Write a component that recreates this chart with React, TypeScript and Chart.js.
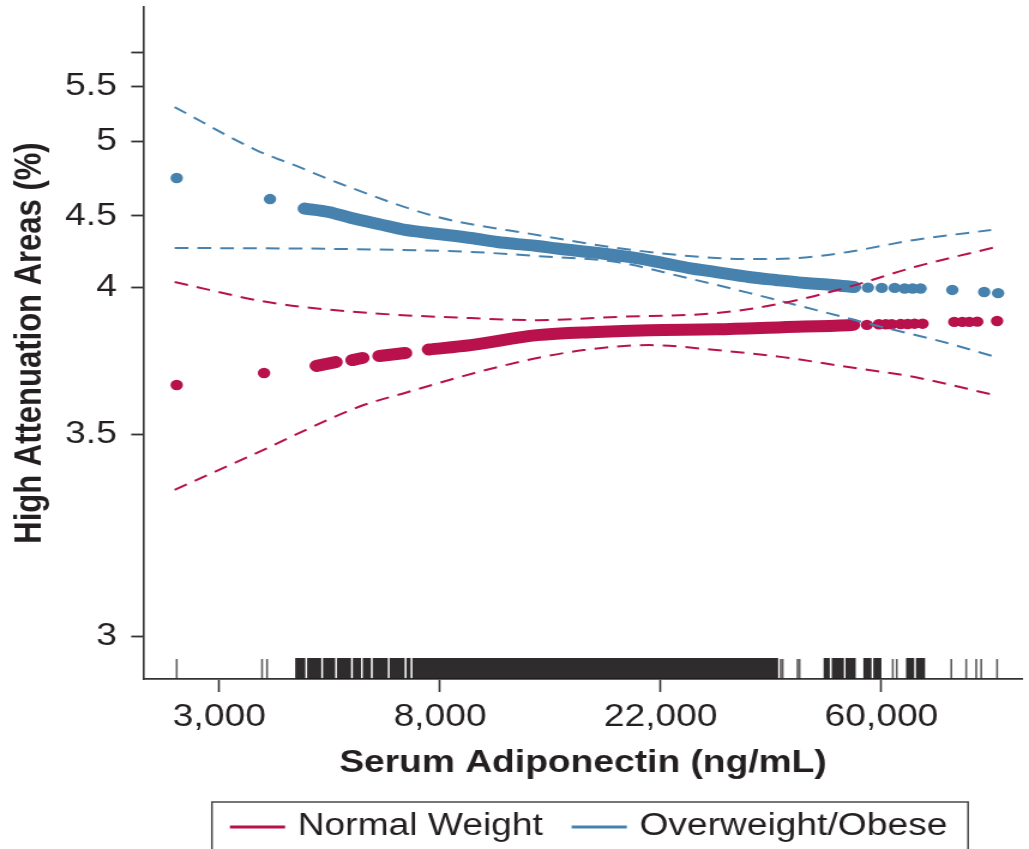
import { useEffect, useRef } from 'react';
import { Chart, registerables, LinearScale } from 'chart.js';

// ---- series (x: serum adiponectin, ng/mL; y: high attenuation areas, %) ----

// Normal weight: fitted values
const NW_DOT_X = [2457, 3650];
const NW_DOT_Y = [3.667, 3.708];
const NW_BAND_X = [4633, 5047, 5200, 5448, 5699, 5800, 6156, 6916, 7300, 7705, 9308, 12582, 16481, 20925, 28301, 38272, 51516, 52641];
const NW_BAND_Y = [3.732, 3.745, null, 3.752, 3.759, null, 3.766, 3.776, null, 3.788, 3.803, 3.837, 3.848, 3.854, 3.857, 3.864, 3.871, 3.872];
const NW_TAIL_X = [56066, 59174, 61071, 62741, 65334, 67424, 69562, 72136, 83291, 86368, 89135, 92416, 101127];
const NW_TAIL_Y = [3.872, 3.874, 3.874, 3.874, 3.875, 3.875, 3.876, 3.876, 3.882, 3.882, 3.882, 3.883, 3.885];
// Normal weight: 95% confidence limits
const NW_HI_X = [2434, 3784, 5935, 9308, 12582, 18033, 28301, 38272, 51516, 69562, 100626];
const NW_HI_Y = [4.037, 3.947, 3.912, 3.895, 3.888, 3.899, 3.912, 3.946, 4.002, 4.142, 4.283];
const NW_LO_X = [2434, 3569, 5597, 7009, 9477, 12582, 15546, 20925, 28301, 38272, 51516, 69562, 99756];
const NW_LO_Y = [3.362, 3.456, 3.592, 3.643, 3.708, 3.759, 3.786, 3.803, 3.786, 3.762, 3.728, 3.694, 3.633];

// Overweight/obese: fitted values
const OW_DOT_X = [2457, 3750];
const OW_DOT_Y = [4.756, 4.614];
const OW_BAND_X = [4389, 4891, 5424, 6126, 6916, 8022, 9308, 10509, 11499, 12582, 13767, 16481, 19731, 22286, 25048, 28301, 32832, 37081, 42416, 47937, 52881];
const OW_BAND_Y = [4.55, 4.527, 4.486, 4.444, 4.402, 4.374, 4.346, 4.318, 4.303, 4.29, 4.272, 4.241, 4.205, 4.17, 4.135, 4.107, 4.072, 4.051, 4.03, 4.016, 4.002];
const OW_TAIL_X = [56318, 59958, 63574, 66527, 68963, 71490, 82549, 95374, 101582];
const OW_TAIL_Y = [3.999, 3.998, 3.998, 3.996, 3.996, 3.996, 3.991, 3.984, 3.98];
// Overweight/obese: 95% confidence limits
const OW_HI_X = [2434, 3521, 4274, 5115, 8022, 12582, 18033, 28301, 33896, 41127, 51516, 69562, 98415];
const OW_HI_Y = [5.315, 4.944, 4.83, 4.722, 4.493, 4.367, 4.276, 4.205, 4.198, 4.205, 4.248, 4.332, 4.402];
const OW_LO_X = [2434, 5115, 9308, 12582, 18033, 24392, 32832, 44398, 59958, 80716, 102037];
const OW_LO_Y = [4.276, 4.269, 4.248, 4.219, 4.177, 4.072, 3.981, 3.923, 3.865, 3.81, 3.759];

// Rug of observed adiponectin values: single observations and crowded runs
const RUG_TICKS = [2457, 3617, 3700, 37932, 38272, 40944, 41316, 63030, 64173, 82177, 87913, 91997, 94104, 101127];
const RUG_RUN_LO = [4215, 4449, 4781, 5092, 5473, 5725, 5988, 6464, 6979, 7170, 46201, 47937, 51012, 55318, 57862, 67120, 70214];
const RUG_RUN_HI = [4389, 4717, 5024, 5399, 5648, 5907, 6378, 6884, 7073, 37394, 47253, 50373, 53140, 57084, 59712, 69274, 72764];

// Axes
const X_TICK_VALUES = [2981, 8103, 22026, 59874];
const X_TICK_LABELS = ['3,000', '8,000', '22,000', '60,000'];
const X_MIN = 2111;
const X_MAX = 113600;
const Y_TICK_VALUES = [3, 3.5, 4, 4.5, 5, 5.5, 6];
const Y_TICK_LABELS = ['3', '3.5', '4', '4.5', '5', '5.5', ''];
const Y_MIN = 2.896;
const Y_MAX = 6.682;

const LEGEND_LABELS = ['Normal Weight', 'Overweight/Obese'];

// ---- styling ----
const RED = '#b8114b';
const BLUE = '#4682ad';
const INK = '#231f20';
const AXIS = '#333333';
const FONT = "'Liberation Sans', Arial, Helvetica, sans-serif";
const CANVAS_W = 858;
const CANVAS_H = 849;

// The y axis is unevenly spaced: each tick value sits at a fixed share of the axis height.
const WARP_VALUES = [Y_MIN, 3, 3.5, 4, 4.5, 5, 5.5, 6, Y_MAX];
const WARP_SHARE = [0, 0.06295, 0.36458, 0.58289, 0.68899, 0.79955, 0.8814, 0.93155, 1];

function toShare(v: number): number {
  const n = WARP_VALUES.length;
  let i = 0;
  if (v <= WARP_VALUES[0]) i = 0;
  else if (v >= WARP_VALUES[n - 1]) i = n - 2;
  else while (i < n - 2 && v > WARP_VALUES[i + 1]) i++;
  const t = (v - WARP_VALUES[i]) / (WARP_VALUES[i + 1] - WARP_VALUES[i]);
  return WARP_SHARE[i] + t * (WARP_SHARE[i + 1] - WARP_SHARE[i]);
}

function fromShare(s: number): number {
  const n = WARP_SHARE.length;
  let i = 0;
  if (s <= WARP_SHARE[0]) i = 0;
  else if (s >= WARP_SHARE[n - 1]) i = n - 2;
  else while (i < n - 2 && s > WARP_SHARE[i + 1]) i++;
  const t = (s - WARP_SHARE[i]) / (WARP_SHARE[i + 1] - WARP_SHARE[i]);
  return WARP_VALUES[i] + t * (WARP_VALUES[i + 1] - WARP_VALUES[i]);
}

class WarpedScale extends LinearScale {
  static id = 'warped';
  static defaults = LinearScale.defaults;
  getPixelForValue(value: any): number {
    if (value === null || value === undefined || isNaN(value)) return NaN;
    return this.getPixelForDecimal(toShare(Number(value)));
  }
  getValueForPixel(pixel: number): number {
    return fromShare(this.getDecimalForPixel(pixel));
  }
}

Chart.register(...registerables, WarpedScale as any);

const pts = (xs: number[], ys: (number | null)[]) => xs.map((x, i) => ({ x, y: ys[i] }));

const rugPlugin = {
  id: 'rug',
  afterDatasetsDraw(chart: any) {
    const { ctx, chartArea, scales } = chart;
    const xs = scales.x;
    const bottom = chartArea.bottom;
    const top = bottom - 21;
    ctx.save();
    ctx.fillStyle = 'rgba(30,28,28,0.93)';
    RUG_RUN_LO.forEach((lo, i) => {
      const a = xs.getPixelForValue(lo);
      const b = xs.getPixelForValue(RUG_RUN_HI[i]);
      ctx.fillRect(a - 0.5, top, b - a + 1, bottom - top);
    });
    ctx.strokeStyle = 'rgba(40,38,38,0.75)';
    ctx.lineWidth = 1.6;
    RUG_TICKS.forEach((v) => {
      const p = xs.getPixelForValue(v);
      ctx.beginPath();
      ctx.moveTo(p, top + 1);
      ctx.lineTo(p, bottom);
      ctx.stroke();
    });
    ctx.restore();
  },
};

const boxedLegend = {
  id: 'boxedLegend',
  afterDraw(chart: any) {
    const { ctx } = chart;
    const colors = [RED, BLUE];
    ctx.save();
    ctx.strokeStyle = '#4a4a4a';
    ctx.lineWidth = 1.5;
    ctx.strokeRect(176.7, 802, 630.5, 70);
    ctx.font = `31px ${FONT}`;
    ctx.textBaseline = 'middle';
    ctx.textAlign = 'left';
    let x = 191.7;
    LEGEND_LABELS.forEach((label, i) => {
      ctx.fillStyle = colors[i];
      ctx.fillRect(x, 825.5, 46, 3);
      ctx.fillStyle = INK;
      ctx.fillText(label, x + 56.5, 826.5);
      x += 56.5 + ctx.measureText(label).width + 24;
    });
    ctx.restore();
  },
};

export default function App() {
  const ref = useRef<HTMLCanvasElement | null>(null);

  useEffect(() => {
    if (!ref.current) return;
    const dashed = (color: string, xs: number[], ys: number[]) => ({
      data: pts(xs, ys),
      showLine: true,
      borderColor: color,
      borderWidth: 2,
      borderDash: [11.5, 7.5],
      pointRadius: 0,
      cubicInterpolationMode: 'monotone' as const,
      order: 0,
    });
    const band = (color: string, xs: number[], ys: (number | null)[]) => ({
      data: pts(xs, ys),
      showLine: true,
      spanGaps: false,
      borderColor: color,
      borderWidth: 12,
      borderCapStyle: 'round' as const,
      borderJoinStyle: 'round' as const,
      pointRadius: 0,
      cubicInterpolationMode: 'monotone' as const,
      order: 1,
    });
    const dots = (color: string, xs: number[], ys: number[]) => ({
      data: pts(xs, ys),
      showLine: false,
      pointRadius: 5.2,
      pointBackgroundColor: color,
      pointBorderWidth: 0,
      order: 1,
    });

    const tickFont = { family: FONT, size: 31 };
    const titleFont = { family: FONT, size: 31, weight: 'bold' as const };

    const chart = new Chart(ref.current, {
      type: 'scatter',
      data: {
        datasets: [
          dashed(RED, NW_HI_X, NW_HI_Y),
          dashed(RED, NW_LO_X, NW_LO_Y),
          dashed(BLUE, OW_HI_X, OW_HI_Y),
          dashed(BLUE, OW_LO_X, OW_LO_Y),
          band(RED, NW_BAND_X, NW_BAND_Y),
          band(BLUE, OW_BAND_X, OW_BAND_Y),
          dots(RED, NW_DOT_X, NW_DOT_Y),
          dots(RED, NW_TAIL_X, NW_TAIL_Y),
          dots(BLUE, OW_DOT_X, OW_DOT_Y),
          dots(BLUE, OW_TAIL_X, OW_TAIL_Y),
        ] as any,
      },
      options: {
        responsive: false,
        animation: false,
        devicePixelRatio: 1,
        layout: { padding: { top: 7, left: 0, right: 0, bottom: 0 } },
        plugins: { legend: { display: false }, tooltip: { enabled: false } },
        scales: {
          x: {
            type: 'logarithmic',
            min: X_MIN,
            max: X_MAX,
            afterBuildTicks: (s: any) => {
              s.ticks = X_TICK_VALUES.map((v) => ({ value: v }));
            },
            afterFit: (s: any) => {
              s.height = 170;
              s.paddingLeft = 0;
              s.paddingRight = 0;
            },
            ticks: {
              autoSkip: false,
              maxRotation: 0,
              padding: 7,
              color: INK,
              font: tickFont,
              callback: (_v: any, i: number) => X_TICK_LABELS[i],
            },
            grid: { drawOnChartArea: false, drawTicks: true, tickLength: 13, tickColor: AXIS, tickWidth: 1.6 },
            border: { display: true, color: AXIS, width: 1.8 },
            title: {
              display: true,
              text: 'Serum Adiponectin (ng/mL)',
              color: INK,
              font: titleFont,
              padding: { top: 0, bottom: 67 },
            },
          },
          y: {
            type: 'warped' as any,
            min: Y_MIN,
            max: Y_MAX,
            afterBuildTicks: (s: any) => {
              s.ticks = Y_TICK_VALUES.map((v) => ({ value: v }));
            },
            afterFit: (s: any) => {
              s.width = 119.4;
              s.paddingTop = 0;
              s.paddingBottom = 0;
            },
            ticks: {
              autoSkip: false,
              padding: 12,
              color: INK,
              font: tickFont,
              callback: (_v: any, i: number) => Y_TICK_LABELS[i],
            },
            grid: { drawOnChartArea: false, drawTicks: true, tickLength: 10, tickColor: AXIS, tickWidth: 1.8 },
            border: { display: true, color: AXIS, width: 1.6 },
            title: {
              display: true,
              text: 'High Attenuation Areas (%)',
              color: INK,
              font: titleFont,
              padding: { top: 7, bottom: 0 },
            },
          },
        } as any,
      },
      plugins: [rugPlugin, boxedLegend],
    });
    return () => chart.destroy();
  }, []);

  return (
    <div style={{ position: 'fixed', left: 0, top: 0, width: 1029, height: 849, background: '#fff', overflow: 'hidden' }}>
      <canvas
        ref={ref}
        width={CANVAS_W}
        height={CANVAS_H}
        style={{ width: '1029px', height: '849px', display: 'block' }}
      />
    </div>
  );
}
